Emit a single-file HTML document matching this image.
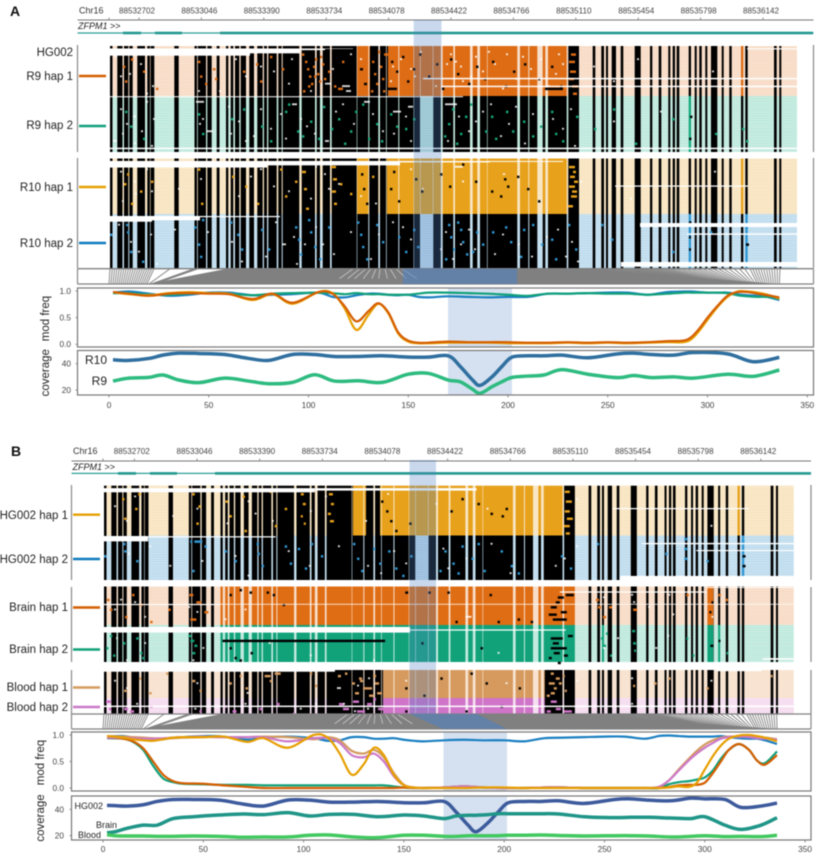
<!DOCTYPE html>
<html lang="en">
<head>
<meta charset="utf-8">
<title>ZFPM1 methylation</title>
<style>
html,body{margin:0;padding:0;background:#fff;width:832px;height:856px;overflow:hidden}
svg{display:block;font-family:"Liberation Sans",sans-serif;filter:blur(0.45px)}
</style>
</head>
<body>
<svg id="figure" xmlns="http://www.w3.org/2000/svg" width="832" height="856" viewBox="0 0 832 856">
<defs>
<pattern id="readLines" width="10" height="2.45" patternUnits="userSpaceOnUse"><rect y="1.75" width="10" height="0.7" fill="#fff" fill-opacity="0.38"/></pattern>
</defs>
</svg>
<script>
/* ---------- shared axis data ---------- */
const genomeTicks = ["88532702","88533046","88533390","88533734","88534078","88534422","88534766","88535110","88535454","88535798","88536142"];
const cpgTicks = [0,50,100,150,200,250,300,350];
const modTicks = [0,0.5,1];
const covTicks = [20,40];

/* CpG site blocks as [startBin,endBin]; one bin is about 5.5 bp */
const siteBlocks = [[0,2.5],[7.3,12.5],[14,18.3],[19.3,22.7],[27.3,35],[37.3,40],[40.6,44.3],[64.3,68.7],[84.5,87],[87.8,96],[97.3,101.7],[106.7,109.5],[116,118.3],[120.7,123.3],[125,129.3],[130.7,136],[139.3,144],[147.3,152.7],[154,157],[158.3,166.7],[168.3,171.7],[172.7,189.3],[191.7,205],[206.7,210],[212.7,220],[221.7,246.7],[247.3,258.3],[259.3,268.3],[270,276],[276.7,288.3],[289.3,303.5],[304,310],[310.6,322.7],[323.3,330.7],[332.7,343.3],[345,360],[362.7,367.3],[370,377],[377.6,407.3],[410,418.3],[419.3,427.3],[432.7,435.3],[438,456.7],[458.3,469],[482.7,485.3],[491.3,494],[496,498],[501.7,506],[510.7,513.3],[524.7,530.7],[540,542.3],[548.7,551.3],[558.3,560.3],[562.7,565],[566.7,569.3],[578.7,581],[584.7,586.7],[589.3,591.7],[595.3,597.3],[601,607.3],[611.7,613.7],[619.3,621.7],[631,633.3],[635.3,637.7],[664,666.7],[669.3,671.3]];

/* site index reached at given bins (drives the fan connector) */
const fanBins = [0,44,68,84,110,200,256,303,331,469,560,640,670];
const fanSites = [0,19,20.5,21,33,85,120,170,202,290,310,325,336];
const fanGapBins = [243,250,256,261,266,270,275,280,286,292];

/* ---------- panel A mod frequency ---------- */
const modPosA = [2,10,20,30,40,50,60,72,82,92,105,112,118,124,130,135,140,145,150,155,160,170,180,190,200,210,220,230,240,250,260,270,280,288,292,296,300,305,310,315,320,325,330,336];
const modR10Hap2 = [.97,.99,.95,.91,.93,.97,.97,.92,.93,.94,.97,.89,.88,.92,.95,.95,.93,.92,.93,.89,.88,.90,.89,.88,.89,.89,.95,.95,.96,.97,.97,.93,.98,.99,.99,.98,.97,.97,.97,.94,.92,.91,.89,.83];
const modR9Hap2 = [.96,.96,.93,.93,.95,.96,.95,.92,.95,.96,.97,.96,.94,.96,.94,.94,.93,.93,.93,.95,.97,.97,.96,.95,.93,.91,.95,.95,.96,.95,.95,.93,.95,.97,.97,.97,.97,.97,.96,.92,.90,.89,.89,.85];
const modR10Hap1 = [.98,.94,.92,.96,.98,.96,.95,.83,.94,.76,.98,.96,.68,.27,.55,.76,.58,.20,.05,.02,.02,.03,.03,.03,.02,.02,.02,.03,.02,.03,.02,.03,.04,.04,.10,.26,.46,.70,.89,.99,.99,.97,.93,.86];
const modR9Hap1 = [.98,.95,.91,.95,.96,.95,.94,.85,.95,.78,.98,.95,.72,.43,.62,.77,.60,.22,.07,.03,.03,.05,.04,.04,.04,.03,.03,.04,.03,.04,.03,.04,.06,.07,.14,.30,.50,.72,.91,.98,.98,.95,.92,.88];

/* ---------- panel A coverage ---------- */
const covPosA = [2,10,20,27,35,45,58,70,80,92,103,113,125,137,150,160,170,176,182,186,192,197,202,210,218,227,240,255,263,272,283,293,310,323,336];
const covR10 = [43,42.5,44,46.5,48,47.8,47,44,42.5,47,47,45.5,45.5,46,45,45,46,38,28,23.5,30,38,45,46,46,46.5,44.5,47.5,48,47,46.5,48.5,47.5,41.5,44.8];
const covR9 = [26.8,29,29.6,31.4,27.6,25.6,29,26.8,24.8,25.8,31.6,26.8,27,25.8,32,32.7,27.6,26.3,20.8,17.5,22.5,26.3,29.6,30.6,31.4,35.5,32,29.4,31,29.4,30,29,32,30.4,35.2];

/* ---------- panel B mod frequency ---------- */
const modPosB = [2,10,15,20,25,30,35,40,50,60,72,80,92,105,112,118,124,130,135,140,145,150,155,160,170,180,190,200,210,220,230,240,250,260,270,277,282,287,292,296,300,304,308,312,317,322,326,330,336];
const modHgHap2 = [.97,.98,.95,.92,.91,.92,.95,.96,.98,.97,.91,.95,.97,.94,.89,.90,.96,.96,.93,.93,.94,.91,.89,.88,.90,.91,.90,.90,.88,.94,.95,.96,.97,.97,.93,.98,.99,.98,.97,.97,.97,.97,.98,.96,.94,.93,.93,.90,.83];
const modBrainHap2 = [.94,.93,.87,.72,.42,.18,.11,.08,.07,.06,.06,.05,.05,.05,.05,.05,.05,.05,.05,.05,.03,.01,0,0,.01,.03,.01,0,0,.01,.01,0,0,0,0,0,.07,.11,.13,.16,.20,.33,.55,.72,.83,.72,.52,.47,.69];
const modBrainHap1 = [.95,.93,.88,.75,.50,.25,.13,.09,.08,.05,.02,0,0,0,0,0,0,0,0,0,0,.01,0,0,.01,.03,.01,0,0,.01,.01,0,0,0,0,0,.02,.05,.06,.06,.10,.28,.50,.72,.83,.72,.52,.44,.62];
const modBloodHap1 = [.98,.97,.96,.95,.94,.93,.94,.95,.96,.96,.96,.97,.96,.92,.96,.90,.70,.65,.72,.58,.28,.06,.01,0,.01,.03,.01,0,0,.01,.01,0,0,0,0,.02,.14,.35,.55,.70,.82,.90,.95,.97,.97,.97,.96,.95,.92];
const modBloodHap2 = [.95,.95,.94,.93,.93,.94,.95,.96,.97,.96,.96,.96,.88,.94,.94,.85,.62,.58,.65,.50,.22,.05,.01,0,.01,.03,.01,0,0,.01,.01,0,0,0,0,.02,.14,.33,.52,.65,.76,.85,.93,.96,.97,.96,.94,.93,.91];
const modHgHap1 = [.98,.95,.92,.90,.89,.92,.95,.96,.96,.97,.87,.94,.76,1,.95,.65,.25,.45,.76,.62,.25,.05,.01,0,0,0,.01,.01,0,0,0,0,0,0,0,0,.01,.03,.02,.10,.35,.60,.80,.93,.99,1,.98,.95,.88];

/* ---------- panel B coverage ---------- */
const covPosB = [2,6,12,20,27,35,45,58,70,80,92,103,113,125,137,150,160,170,176,182,186,192,197,202,210,218,227,240,255,263,272,283,293,300,310,318,328,336];
const covHg002 = [43,42.8,42.5,43.5,46,47.5,47.5,47,44,42.5,47,47,45.5,45.5,46,45,45,46,38,28,23,30,38,45,46,46,46.5,44.5,47.5,48,47,46.5,48.5,48,47.5,41.5,42.5,44.8];
const covBrain = [22.3,23,25.6,28,28,33,34.4,35.7,36.5,36,37.5,35,36.2,36.2,34.4,35.7,35,33,35,35.5,35.5,36,36.7,36.7,36.7,36.7,36.5,34.4,33.7,34,34,33.4,33,34.4,28,24.8,28,33.7];
const covBlood = [20.8,20,19.8,19.8,19.5,19.5,19.8,19.5,18.8,19,19,20.3,20.5,19,18.5,20.3,20.3,19.5,19.5,20,20,20,20,20.3,20.3,20.5,20.2,19.8,20,20,19.8,19,19.5,20,19.3,19.5,19.3,20.3];

/* ---------- per-track methylation calls: [bin,read,(lengthInBins)] flip the site colour ---------- */
const specksR9Hap1 = [[13,8],[15,14],[21,5],[33,10],[46,17],[88,6],[90,12],[95,15],[103,9],[105,13],[133,10],[146,7],[150,14],[160,4],[172,9],[195,6],[197,9],[199,12],[201,15],[203,8],[205,5],[207,11],[209,14],[193,18],[212,7],[214,13],[228,17,5],[262,6],[264,11],[266,15],[270,8],[272,13],[261,18],[281,6],[286,10],[292,4],[297,14],[303,9],[309,3],[318,12],[326,7],[332,17],[340,5],[347,11],[358,15],[366,8],[374,13],[382,6],[395,16],[403,10],[414,7],[428,13],[441,8],[450,16],[459,6,6],[460,10,6],[459,13,5],[462,16,6],[461,3,5],[463,19,4],[435,17,18],[274,3,4],[250,9,3],[254,15,3],[278,17,9],[192,3],[198,16],[204,12],[210,4],[218,10],[224,16],[232,6],[268,2],[273,18]];
const lightsR9Hap1 = [[10,12],[30,7],[42,16],[90,3],[109,18],[135,12],[163,10],[215,15,6],[232,16,8],[236,18,5],[250,5],[290,5],[300,9],[310,2],[340,3],[345,6],[350,8],[352,14],[365,4],[372,10],[384,7],[396,3],[405,13],[420,9],[430,5],[445,11],[452,7],[483,8],[503,14],[527,5],[602,10],[5,4],[19,11],[36,19],[88,18],[125,5],[150,8],[178,15],[181,5],[200,18],[222,9],[240,3],[280,14],[282,8],[304,12],[325,16],[336,7],[360,12],[378,2],[392,17],[412,4],[438,16],[448,3]];
const specksR9Hap2 = [[15,6],[20,12],[33,17],[88,7],[92,15],[121,9],[133,5],[151,12],[160,18],[175,6],[187,14],[200,10],[208,17],[213,4],[228,9],[240,14],[252,3],[266,11],[271,18],[280,7],[295,13],[303,9],[338,11],[342,5],[350,15],[355,8],[375,14],[385,17],[396,6],[413,10],[422,16],[430,12],[452,18],[466,8],[484,13],[503,5],[525,19],[579,17],[580,8],[632,13],[636,18],[605,15],[562,9],[178,3],[192,16],[221,13],[234,19],[245,6],[258,17],[286,12],[334,16],[346,19],[360,3],[381,8],[402,14],[441,6],[445,15]];
const lightsR9Hap2 = [[3,18,4],[10,5],[16,11],[23,8,3],[31,14],[41,20],[86,2,8],[92,9],[97,14,6],[118,4],[128,10],[143,16],[170,7],[182,3,5],[196,12],[215,18,4],[225,6],[243,11],[254,2,6],[283,6,8],[298,4,5],[300,18],[335,3,12],[348,8],[358,14],[372,6],[390,16],[405,4],[414,19],[422,7],[452,13],[464,20],[503,10],[550,6],[12,15],[24,19],[36,2],[43,9],[89,11],[120,15],[135,18],[150,5],[160,13],[175,17],[190,9],[204,15],[232,3],[262,7],[272,14],[283,15],[295,8],[337,18],[365,10],[380,3],[398,11],[442,9],[460,5]];
const specksR10Hap1 = [[14,10],[17,6],[21,18],[30,13],[41,9],[88,4],[91,18],[122,7],[135,11],[147,18],[170,4],[175,15],[185,9],[192,5,4],[194,12,3],[196,20,3],[221,3,5],[223,8,4],[222,13,4],[224,18,3],[230,10],[240,14],[251,6],[253,12],[256,18],[262,7],[280,12],[283,5],[288,17],[305,8],[311,13],[330,6],[352,2],[339,11],[365,9],[381,13],[390,15],[394,8],[397,11],[407,7],[417,12],[428,17],[459,3,6],[460,7,5],[459,11,6],[461,15,6],[458,19,5],[463,5,3],[464,9,4],[462,13,5]];
const lightsR10Hap1 = [[10,5],[24,9],[25,14],[36,4],[68,12],[118,3],[140,7],[163,11],[205,3],[214,6],[218,12],[250,15],[300,4],[312,12],[345,3,8],[352,9],[393,6],[470,9],[520,16],[604,5],[12,17],[41,13],[90,8],[128,15],[150,4],[178,13],[200,16],[228,10],[265,18]];
const specksR10Hap2 = [[0,8],[16,4,2],[17,7],[20,15],[32,19],[84,5],[92,2],[88,12],[90,17],[120,3],[127,8],[131,14],[151,6],[158,14],[185,5],[188,10],[190,16],[198,2],[200,7],[204,13],[209,18],[218,5],[247,3],[250,8],[252,13],[256,18],[266,4],[272,11],[288,9],[295,15],[303,6],[307,13],[338,4],[340,9],[343,14],[350,6],[356,16],[366,7],[372,12],[395,5],[400,11],[410,17],[413,6],[431,12],[445,18],[458,4],[465,14],[491,4],[501,10],[579,3],[579,9,2],[579,14,2],[635,5,3],[636,12,3],[600,7],[562,15],[335,18],[347,3],[352,11],[362,15],[382,7],[422,4],[441,10]];
const lightsR10Hap2 = [[20,11],[46,20],[64,6],[97,7],[121,11],[131,19],[165,3],[172,12,4],[183,9],[186,20],[205,5],[212,12],[223,16],[268,8],[282,3],[300,10],[330,14],[342,18],[358,6],[364,14],[392,8],[408,12],[421,17],[447,6],[455,17],[461,11],[467,19],[8,4],[28,15],[40,8],[155,17],[194,12],[240,7],[260,18],[292,5],[335,7],[350,12],[384,16],[436,9]];
const specksHgHap1 = [[18,5],[20,13],[31,9],[34,3],[88,3],[92,15],[94,8],[121,6],[125,12],[138,4],[140,18],[165,2],[170,16],[180,9],[196,3,3],[198,7,3],[196,12,2],[199,15,2],[224,3,4],[226,7,3],[223,11,3],[225,14,4],[276,6],[281,10],[285,14],[290,18],[304,15],[345,10],[356,5],[372,7],[385,11],[396,12],[400,9],[459,2,5],[460,6,6],[459,10,5],[461,13,6],[458,16,6],[460,19,4]];
const lightsHgHap1 = [[10,8],[22,14],[30,4],[68,12],[92,9],[143,6],[167,14],[205,10],[220,4],[282,3],[330,7],[381,9],[470,5],[604,16],[122,15],[150,11],[260,14]];
const specksHgHap2 = [[0,8],[19,3],[20,6],[32,10],[86,2,2],[90,2,8],[100,4],[88,14],[120,6],[130,10],[152,3],[153,7],[157,12],[180,4],[185,11],[193,5],[200,13],[206,3],[216,8],[248,3],[252,9],[256,14],[268,5],[274,11],[283,6],[290,13],[297,16],[305,8],[339,6],[347,11],[356,4],[366,9],[378,14],[395,6],[405,12],[412,15],[455,8],[464,13],[491,3,2],[578,1,3],[578,5,3],[578,9,3],[635,2,3],[636,8,3],[636,12,3],[600,10],[559,7],[334,14],[352,15],[372,3]];
const lightsHgHap2 = [[24,7],[45,4],[65,12],[97,10],[130,8],[143,16],[183,6],[204,12],[233,4],[262,12],[288,6],[337,5],[360,9],[385,3],[404,15],[449,12],[458,9],[470,4],[275,15],[300,11],[342,13]];
const specksBrain1 = [[3,5],[6,9],[21,12],[28,3],[36,7],[46,14],[64,9],[85,3,4],[92,6,5],[100,10,4],[86,13,6],[125,3],[135,1],[145,2],[162,2],[168,3],[178,7],[300,2,3],[323,2],[342,2],[384,3],[450,6,4],[445,8,6],[443,11,8],[452,4,6],[460,3,8],[447,13,14],[455,10,6],[350,14],[392,14],[412,13],[425,14],[490,5,3],[492,8,3],[497,12,3],[503,8,3],[527,9,4],[580,3],[605,6,2],[603,10,2],[612,3],[619,5]];
const lightsBrain1 = [[10,9],[16,5],[30,6],[40,12],[84,8],[92,10],[120,13],[140,9],[360,12,6],[497,4],[525,3],[527,6],[542,8],[562,3],[566,11],[605,12]];
const specksBrain2 = [[2,9],[6,4],[9,12],[19,7],[32,5],[36,11],[38,13],[84,4,3],[86,6,4],[88,11,3],[90,8,3],[125,9],[135,14],[118,6,162],[146,11],[130,13],[316,7],[375,9],[445,5,12],[447,7,6],[445,9,16],[448,11,6],[443,13,3],[452,15,3],[458,12,4],[462,4,5],[495,5,2],[498,8,2],[500,3,2],[504,12,2],[526,2,3],[527,7,3],[528,10,2],[580,5,2],[586,12,2],[604,8,3],[612,6,2],[620,11,2]];
const lightsBrain2 = [[12,5],[22,14],[40,7],[88,14],[98,9],[164,7],[205,12],[268,14],[392,11],[497,9],[511,5],[549,9],[561,4]];
const specksBlood1 = [[20,8],[35,3],[45,9],[62,1],[88,4,3],[95,8],[125,5],[135,2],[141,7],[160,2,6],[165,4],[170,1,6],[205,1],[210,6],[233,2,3],[240,1],[247,5,3],[255,4,3],[261,7,6],[250,9,4],[268,2,3],[270,5,4],[272,9,5],[254,3,3],[258,7,3],[264,10,5],[300,7],[318,10],[335,3],[365,1],[380,5],[413,7],[445,1,3],[450,3,4],[443,5,6],[448,7,3],[445,9,4],[453,5,3],[441,10,3],[457,2,2],[459,8,2],[527,6,2],[548,5],[562,3],[600,7],[664,2,2]];
const lightsBlood1 = [[10,4],[22,7],[92,5],[142,9],[232,7,4],[252,6],[263,3],[300,4],[400,5],[470,4],[525,3],[604,4]];
const specksBlood2 = [[2,1,5],[5,4],[20,4,4],[26,5,4],[46,3],[95,5,2],[120,3],[128,5,4],[155,4],[172,2,3],[188,6,2],[234,2,5],[238,4,6],[248,1,6],[252,5,8],[262,2,5],[268,0,3],[273,4,5],[445,1,6],[450,4,5],[441,5,4],[458,5,8],[300,5],[360,5],[395,3],[605,3]];
const lightsBlood2 = [[32,2],[90,4],[140,2],[195,4],[210,2],[238,2],[249,5],[262,4],[525,2]];

const deletedSites = [310,323];
const rowH = 2.45;

const tracksA = [
 {id:"r9-hap-1",y0:46,y1:96,pale:"#f7dac3",strong:"#dd6c14",mod:[[247,260],[278,458],[631,633.3]],specks:specksR9Hap1,lights:lightsR9Hap1,
  gaps:[[-1,140,1,3.95],[140,190,1,3],[190,215,1,1.7],[215,243,1,1.2],[637,688,0.9,1.4],[313,688,13.0,13.6],[331,688,16.2,16.8]]},
 {id:"r9-hap-2",y0:96,y1:152,pale:"#bce8db",strong:"#16a87c",mod:[[578.7,581]],deleted:true,specks:specksR9Hap2,lights:lightsR9Hap2,
  gaps:[[-1,353,0.1,0.5],[-1,688,21.1,21.7]]},
 {id:"r10-hap-1",y0:158.5,y1:214,pale:"#f8e3bd",strong:"#e7a11b",mod:[[247,258.3],[277,458],[631,633.3]],specks:specksR10Hap1,lights:lightsR10Hap1,
  gaps:[[-1,157,1,3.7],[157,290,1,2.8],[290,380,1,1.6],[380,453,1,1.4],[505,638,11,11.5]]},
 {id:"r10-hap-2",y0:214,y1:268,pale:"#bcdbed",strong:"#2f97d3",mod:[[578.7,581],[635.3,637.7]],deleted:true,specks:specksR10Hap2,lights:lightsR10Hap2,
  gaps:[[-1,42,0.8,3.15],[42,90,0.8,2.6],[90,170,0.8,1.3],[530,688,3.7,5.3],[577,688,7.9,8.5],[511,688,19.6,21.5]]}
];
const tracksB = [
 {id:"hg002-hap-1",y0:485.7,y1:535.5,pale:"#f8e3bd",strong:"#e7a11b",mod:[[248,261],[275,458],[631,633.3]],specks:specksHgHap1,lights:lightsHgHap1,
  gaps:[[-1,210,1,2.7],[210,371,1,2],[507,642,9.1,9.6]]},
 {id:"hg002-hap-2",y0:535.5,y1:580,pale:"#bcdbed",strong:"#2f97d3",mod:[[635.3,637.7]],deleted:true,specks:specksHgHap2,lights:lightsHgHap2,
  gaps:[[-1,44,0.2,2.4],[44,171,0.3,0.8],[536,688,3,3.6],[590,688,5.9,6.4],[514,688,16.5,18.2]]},
 {id:"brain-hap-1",y0:586.5,y1:625,pale:"#f7dac3",strong:"#df6d14",mod:[[116,469],[601,607]],specks:specksBrain1,lights:lightsBrain1,
  gaps:[[-1,116,7.1,7.6],[116,688,7.1,7.4],[454,600,2,2.5],[600,688,0.2,0.6]]},
 {id:"brain-hap-2",y0:625,y1:662,pale:"#bce8db",strong:"#12a27a",mod:[[116,469],[496,498],[601,607],[611.7,613.7]],specks:specksBrain2,lights:lightsBrain2,
  gaps:[[-1,305,0.8,3.1],[305,460,1.8,2.3],[656,688,13.5,14.2]]},
 {id:"blood-hap-1",y0:670,y1:698,pale:"#f7e0cb",strong:"#d69a5e",mod:[[278,439]],specks:specksBlood1,lights:lightsBlood1,
  gaps:[[-1,230,-1,0.7],[610,655,-1,0.5]]},
 {id:"blood-hap-2",y0:698,y1:714,pale:"#f4dbef",strong:"#cf74c8",mod:[[278,439]],specks:specksBlood2,lights:lightsBlood2,
  gaps:[[-1,688,3.1,3.7]]}
];

const panelA = {
 id:"a",letter:"A",letterX:10,letterY:16,
 rulerY:20,labelY:13.5,chrX:79,left:77.5,right:813.5,firstTick:139,tickStep:62.4,labelShift:-2,
 geneY:33,geneLabelY:29,geneLabelX:78,exons:[[123,141],[155,182],[220,813]],
 hx0:110,hs:1,tracks:tracksA,
 frames:[[45,152],[158,268]],
 hi:[413.7,441.5,20],
 conY0:268.7,conY1:284,hiPoly:[[403,268.7],[517,268.7],[517,284],[403,284]],
 px0:109,ps:1.995,band:[448,512],
 mod:{top:288,bot:347,y0:344.3,k:53.3},cov:{top:350.5,bot:395,y20:390,k:1.315},
 xLabelY:408,yLabX:71,titleX:49,
 modSeries:[{n:"r10-hap-2",c:"#1a7fc1",v:modR10Hap2},{n:"r9-hap-2",c:"#10a07a",v:modR9Hap2},{n:"r10-hap-1",c:"#e69f00",v:modR10Hap1},{n:"r9-hap-1",c:"#d55e00",v:modR9Hap1}],
 modPos:modPosA,covPos:covPosA,
 covSeries:[{n:"r10",c:"#2f6f9f",v:covR10},{n:"r9",c:"#2dbb80",v:covR9}],
 covLabels:[["R10",107,364,12],["R9",107,385,12]],
 legend:[["HG002",56,null],["R9 hap 1",80,"#d55e00",76],["R9 hap 2",129,"#10a07a",126],["R10 hap 1",191,"#e69f00",187],["R10 hap 2",247,"#0f7cbd",243]],
 legendX:73,swatch:[79,106]
};
const panelB = {
 id:"b",letter:"B",letterX:11,letterY:456,
 rulerY:461,labelY:454,chrX:73,left:71.5,right:811,firstTick:134.4,tickStep:62.65,labelShift:-2.6,
 geneY:473.4,geneLabelY:470,geneLabelX:72.5,exons:[[118,136],[150,177],[215,811]],
 hx0:104,hs:1.004,tracks:tracksB,
 frames:[[485,580],[587,662],[670,714]],
 hi:[409.5,436,460],
 conY0:714,conY1:729,hiPoly:[[410,714],[477,714],[507,729],[443,729]],
 px0:103,ps:2.006,band:[443.5,507],
 mod:{top:732,bot:791,y0:788,k:53},cov:{top:796,bot:840,y20:835.7,k:1.317},
 xLabelY:852,yLabX:64,titleX:44,
 modSeries:[{n:"hg002-hap-2",c:"#1a7fc1",v:modHgHap2},{n:"brain-hap-2",c:"#10a07a",v:modBrainHap2},{n:"brain-hap-1",c:"#d55e00",v:modBrainHap1},{n:"blood-hap-1",c:"#d39a5f",v:modBloodHap1},{n:"blood-hap-2",c:"#cc79c8",v:modBloodHap2},{n:"hg002-hap-1",c:"#e69f00",v:modHgHap1}],
 modPos:modPosB,covPos:covPosB,
 covSeries:[{n:"hg002",c:"#3c5a9c",v:covHg002},{n:"brain",c:"#1f9588",v:covBrain},{n:"blood",c:"#42c860",v:covBlood}],
 covLabels:[["HG002",103,809,9],["Brain",117,828,9],["Blood",101,838,9]],
 legend:[["HG002 hap 1",519,"#e69f00",514.7],["HG002 hap 2",563,"#0f7cbd",559],["Brain hap 1",611,"#d55e00",607.5],["Brain hap 2",653,"#10a07a",649.5],["Blood hap 1",691,"#d39a5f",687.5],["Blood hap 2",711,"#cc79c8",707]],
 legendX:68,swatch:[73,100]
};

/* ---------- helpers ---------- */
const NS = "http://www.w3.org/2000/svg";
const root = document.getElementById("figure");
function add(tag, attrs, parent){
  const e = document.createElementNS(NS, tag);
  for (const k in attrs) e.setAttribute(k, attrs[k]);
  parent.appendChild(e);
  return e;
}
function smooth(pts){
  let d = "M" + pts[0][0].toFixed(2) + " " + pts[0][1].toFixed(2);
  for (let i = 0; i < pts.length - 1; i++){
    const p0 = pts[Math.max(i - 1, 0)], p1 = pts[i], p2 = pts[i + 1], p3 = pts[Math.min(i + 2, pts.length - 1)];
    const c1x = p1[0] + (p2[0] - p0[0]) / 6, c1y = p1[1] + (p2[1] - p0[1]) / 6;
    const c2x = p2[0] - (p3[0] - p1[0]) / 6, c2y = p2[1] - (p3[1] - p1[1]) / 6;
    d += "C" + c1x.toFixed(2) + " " + c1y.toFixed(2) + " " + c2x.toFixed(2) + " " + c2y.toFixed(2) + " " + p2[0].toFixed(2) + " " + p2[1].toFixed(2);
  }
  return d;
}
function splitByMod(a, b, ranges){
  let cuts = [a, b];
  ranges.forEach(r => { if (r[0] > a && r[0] < b) cuts.push(r[0]); if (r[1] > a && r[1] < b) cuts.push(r[1]); });
  cuts.sort((p, q) => p - q);
  const out = [];
  for (let i = 0; i < cuts.length - 1; i++){
    const m = (cuts[i] + cuts[i + 1]) / 2;
    out.push([cuts[i], cuts[i + 1], isMod(m, ranges)]);
  }
  return out;
}
function isMod(v, ranges){ return ranges.some(r => v >= r[0] && v < r[1]); }
function binToSite(bin){
  for (let i = 0; i < fanBins.length - 1; i++){
    if (bin <= fanBins[i + 1]) return fanSites[i] + (bin - fanBins[i]) / (fanBins[i + 1] - fanBins[i]) * (fanSites[i + 1] - fanSites[i]);
  }
  return fanSites[fanSites.length - 1];
}
function siteToBin(site){
  for (let i = 0; i < fanSites.length - 1; i++){
    if (site <= fanSites[i + 1]) return fanBins[i] + (site - fanSites[i]) / (fanSites[i + 1] - fanSites[i]) * (fanBins[i + 1] - fanBins[i]);
  }
  return fanBins[fanBins.length - 1];
}

function drawPanel(P){
  const g = add("g", {}, root);
  
  
  const hx = b => P.hx0 + b * P.hs;
  const px = i => P.px0 + i * P.ps;

  const letter = add("text", {x:P.letterX, y:P.letterY, "font-size":14, "font-weight":"bold", fill:"#111"}, g);
  
  
  letter.textContent = P.letter;

  /* genomic ruler */
  const chr = add("text", {x:P.chrX, y:P.labelY, "font-size":9, fill:"#333"}, g);
  
  
  chr.textContent = "Chr16";
  const ruler = add("line", {x1:P.left, x2:P.right, y1:P.rulerY, y2:P.rulerY, stroke:"#777", "stroke-width":0.9}, g);
  
  
  const lead = add("line", {x1:P.px0, x2:P.px0, y1:P.rulerY-2.5, y2:P.rulerY, stroke:"#777", "stroke-width":0.8}, g);
  
  
  genomeTicks.forEach((t, i) => {
    const x = P.firstTick + i * P.tickStep;
    const tk = add("line", {x1:x, x2:x, y1:P.rulerY-2.5, y2:P.rulerY, stroke:"#777", "stroke-width":0.8}, g);
    
    
    const lb = add("text", {x:x + P.labelShift, y:P.labelY, "font-size":8.1, "text-anchor":"middle", fill:"#444"}, g);
    
    
    lb.textContent = t;
  });

  /* gene model */
  const gl = add("text", {x:P.geneLabelX, y:P.geneLabelY, "font-size":9, fill:"#222"}, g);
  
  
  const gi = add("tspan", {"font-style":"italic"}, gl);
  gi.textContent = "ZFPM1";
  const ga = add("tspan", {}, gl);
  ga.textContent = " >>";
  const gline = add("line", {x1:P.left, x2:P.right, y1:P.geneY, y2:P.geneY, stroke:"#2a9d99", "stroke-width":1.2}, g);
  
  
  P.exons.forEach(x => {
    const ex = add("rect", {x:x[0], y:P.geneY-1.3, width:x[1]-x[0], height:2.6, fill:"#23988f"}, g);
    
    
  });

  /* heatmap tracks */
  P.tracks.forEach(t => {
    const tg = add("g", {}, g);
    
    
    const rowY = r => t.y0 + r * rowH;
    const w = hx(687) - hx(0);
    const bg = add("rect", {x:hx(0), y:t.y0, width:w, height:t.y1-t.y0, fill:t.pale}, tg);
    
    
    const rd = add("rect", {x:hx(0), y:t.y0, width:w, height:t.y1-t.y0, fill:"url(#readLines)"}, tg);
    
    
    siteBlocks.forEach(b => {
      splitByMod(b[0], b[1], t.mod).forEach(s => {
        if (t.deleted && s[0] >= deletedSites[0] && s[1] <= deletedSites[1] + 0.1) return;
        const r = add("rect", {x:hx(s[0]), y:t.y0, width:(s[1]-s[0])*P.hs, height:t.y1-t.y0, fill:s[2] ? t.strong : "#000"}, tg);
        
        
      });
    });
    t.specks.forEach(s => {
      const len = s[2] || 2.4;
      const r = add("rect", {x:hx(s[0]), y:rowY(s[1]), width:len*P.hs, height:rowH, fill:isMod(s[0], t.mod) ? "#000" : t.strong}, tg);
      
      
    });
    t.lights.forEach(s => {
      const len = s[2] || 2;
      const r = add("rect", {x:hx(s[0]), y:rowY(s[1]), width:len*P.hs, height:rowH*0.75, fill:"#fff", "fill-opacity":0.85}, tg);
      
      
    });
    t.gaps.forEach(s => {
      const a = Math.max(s[0], 0), b = Math.min(s[1], 687);
      const top = Math.max(rowY(s[2]), t.y0 - 2);
      const r = add("rect", {x:hx(a) - (s[0] < 0 ? 1 : 0), y:top, width:(b-a)*P.hs + (s[0] < 0 ? 1 : 0), height:rowY(s[3])-top, fill:"#fff"}, tg);
      
      
    });
  });

  /* frames and legend */
  P.frames.forEach(f => {
    [P.left, P.right].forEach(x => {
      const l = add("line", {x1:x, x2:x, y1:f[0], y2:f[1], stroke:"#888", "stroke-width":1.2}, g);
      
      
    });
  });
  P.legend.forEach(L => {
    const tx = add("text", {x:P.legendX, y:L[1], "font-size":11.5, "text-anchor":"end", fill:"#222"}, g);
    
    
    tx.textContent = L[0];
    if (L[2]){
      const sw = add("line", {x1:P.swatch[0], x2:P.swatch[1], y1:L[3], y2:L[3], stroke:L[2], "stroke-width":2.4}, g);
      
      
    }
  });

  /* fan connector between genome bins and CpG index */
  const cg = add("g", {}, g);
  
  
  const mass = add("polygon", {points:[[px(19.5),P.conY1],[hx(117),P.conY0],[hx(469),P.conY0],[px(336),P.conY1]].map(p => p.join(",")).join(" "), fill:"#808080"}, cg);
  
  
  for (let s = 0; s <= 336; s++){
    const b = siteToBin(s);
    if (b > 90 && b < 469) continue;
    const l = add("line", {x1:hx(b), y1:P.conY0, x2:px(s), y2:P.conY1, stroke:"#808080", "stroke-width":0.9}, cg);
    
    
  }
  fanGapBins.forEach(b => {
    const xt = hx(b), xb = px(binToSite(b));
    const l = add("line", {x1:xt, y1:P.conY0, x2:xt+(xb-xt)*0.65, y2:P.conY0+(P.conY1-P.conY0)*0.65, stroke:"#fff", "stroke-width":0.6, "stroke-opacity":0.75}, cg);
    
    
  });
  [P.conY0, P.conY1].forEach(y => {
    const l = add("line", {x1:P.left, x2:P.right, y1:y, y2:y, stroke:"#808080", "stroke-width":1.3}, cg);
    
    
  });
  [P.left, P.right].forEach(x => {
    const l = add("line", {x1:x, x2:x, y1:P.conY0, y2:P.conY1, stroke:"#888", "stroke-width":1.2}, cg);
    
    
  });

  /* highlight over heatmap and connector */
  const hh = add("rect", {x:P.hi[0], y:P.hi[2], width:P.hi[1]-P.hi[0], height:P.conY0-P.hi[2], fill:"#5081c1", "fill-opacity":0.31}, g);
  
  
  const hp = add("polygon", {points:P.hiPoly.map(p => p.join(",")).join(" "), fill:"#5081c1", "fill-opacity":0.6}, g);
  
  

  /* mod freq plot */
  const mf = P.mod;
  const modY = v => mf.y0 - v * mf.k;
  const b1 = add("rect", {x:P.band[0], y:mf.top, width:P.band[1]-P.band[0], height:mf.bot-mf.top, fill:"#5081c1", "fill-opacity":0.24}, g);
  
  
  P.modSeries.forEach(s => {
    const pts = s.v.map((v, i) => [px(P.modPos[i]), modY(v)]);
    const l = add("path", {d:smooth(pts), fill:"none", stroke:s.c, "stroke-width":2.2, "stroke-linejoin":"round"}, g);
    
    
  });
  const mbox = add("rect", {x:P.left, y:mf.top, width:P.right-P.left, height:mf.bot-mf.top, fill:"none", stroke:"#777", "stroke-width":1.2}, g);
  
  
  modTicks.forEach(v => {
    const lb = add("text", {x:P.yLabX, y:modY(v)+2.9, "font-size":8.3, "text-anchor":"end", fill:"#444"}, g);
    
    
    lb.textContent = v.toFixed(1);
    const tk = add("line", {x1:P.left-2, x2:P.left, y1:modY(v), y2:modY(v), stroke:"#777", "stroke-width":0.8}, g);
    
    
  });
  const mt = add("text", {x:P.titleX, y:(mf.top+mf.bot)/2+1, "font-size":11.5, "text-anchor":"middle", fill:"#222", transform:"rotate(-90 "+P.titleX+" "+((mf.top+mf.bot)/2+1)+")"}, g);
  
  
  mt.textContent = "mod freq";

  /* coverage plot */
  const cv = P.cov;
  const covY = v => cv.y20 - (v - 20) * cv.k;
  const b2 = add("rect", {x:P.band[0], y:cv.top, width:P.band[1]-P.band[0], height:cv.bot-cv.top, fill:"#5081c1", "fill-opacity":0.24}, g);
  
  
  P.covSeries.forEach(s => {
    const pts = s.v.map((v, i) => [px(P.covPos[i]), covY(v)]);
    const l = add("path", {d:smooth(pts), fill:"none", stroke:s.c, "stroke-width":3.5, "stroke-linejoin":"round", "stroke-linecap":"butt"}, g);
    
    
  });
  const cbox = add("rect", {x:P.left, y:cv.top, width:P.right-P.left, height:cv.bot-cv.top, fill:"none", stroke:"#777", "stroke-width":1.2}, g);
  
  
  covTicks.forEach(v => {
    const lb = add("text", {x:P.yLabX, y:covY(v)+2.9, "font-size":8.3, "text-anchor":"end", fill:"#444"}, g);
    
    
    lb.textContent = v;
    const tk = add("line", {x1:P.left-2, x2:P.left, y1:covY(v), y2:covY(v), stroke:"#777", "stroke-width":0.8}, g);
    
    
  });
  const ct = add("text", {x:P.titleX, y:(cv.top+cv.bot)/2, "font-size":11.5, "text-anchor":"middle", fill:"#222", transform:"rotate(-90 "+P.titleX+" "+((cv.top+cv.bot)/2)+")"}, g);
  
  
  ct.textContent = "coverage";
  P.covLabels.forEach(c => {
    const lb = add("text", {x:c[1], y:c[2], "font-size":c[3], "text-anchor":"end", fill:"#222"}, g);
    
    
    lb.textContent = c[0];
  });
  cpgTicks.forEach(v => {
    const tk = add("line", {x1:px(v), x2:px(v), y1:cv.bot, y2:cv.bot+2.5, stroke:"#777", "stroke-width":0.8}, g);
    
    
    const lb = add("text", {x:px(v), y:P.xLabelY, "font-size":8.3, "text-anchor":"middle", fill:"#444"}, g);
    
    
    lb.textContent = v;
  });
}
drawPanel(panelA);
drawPanel(panelB);
</script>
</body>
</html>
